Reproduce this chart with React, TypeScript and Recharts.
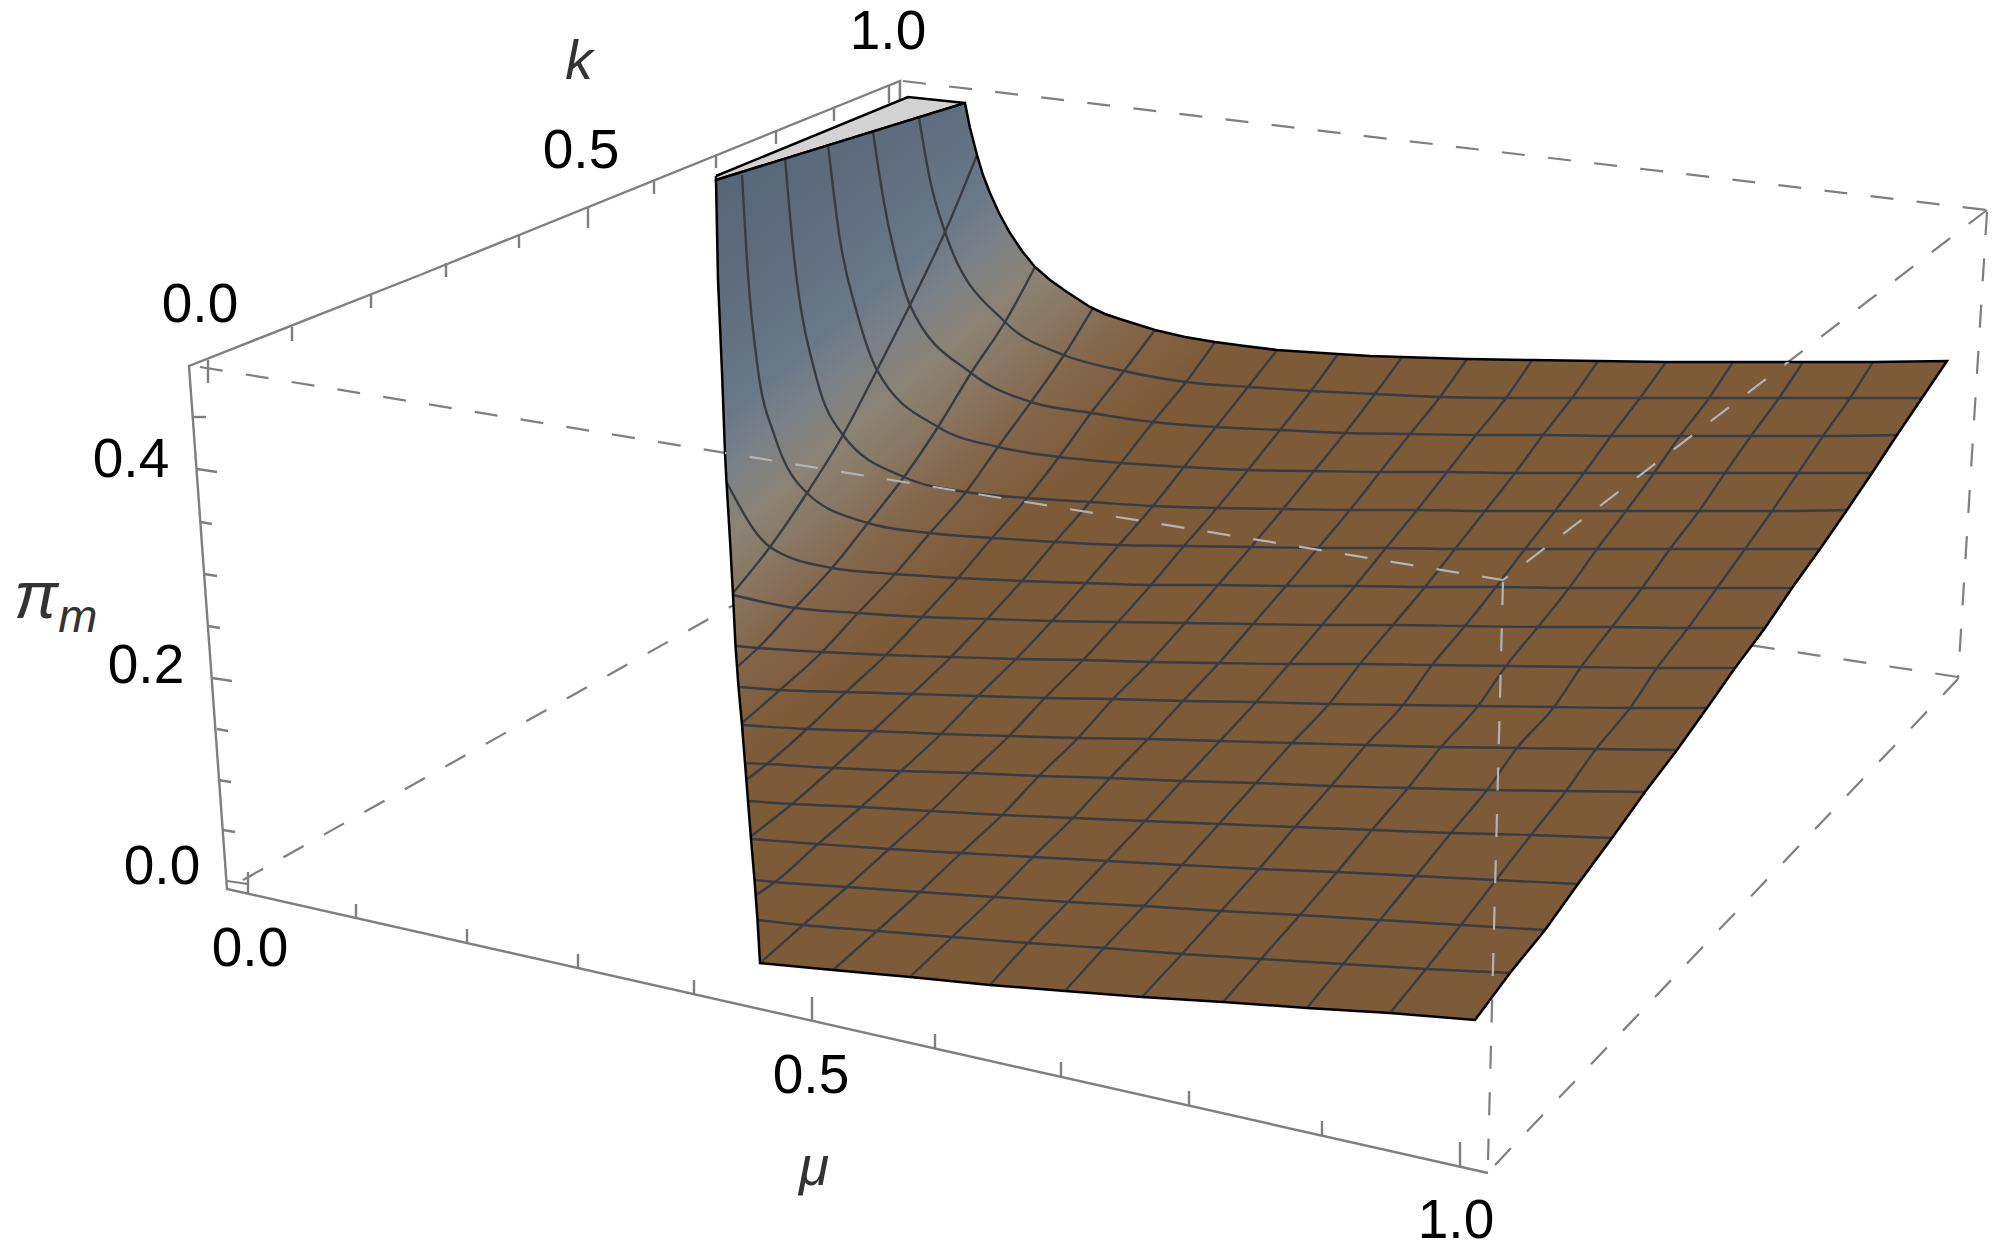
import { ScatterChart, Scatter, XAxis, YAxis } from "recharts";

type Pt = number[];

// surface mesh; the chart's axes run over the image size
const row1: Pt[] = [[945,232],[1005,322],[1064,355],[1124,371],[1186,382],[1248,387],[1311,391],[1375,394],[1440,397],[1506,398],[1572,398],[1640,398],[1709,398],[1779,398],[1850,398],[1922,398]];
const row2: Pt[] = [[910,305],[971,373],[1031,402],[1091,413],[1153,422],[1216,427],[1280,430],[1345,433],[1410,434],[1476,435],[1543,435],[1611,436],[1680,436],[1751,436],[1823,436],[1897,435]];
const row3: Pt[] = [[877,370],[938,427],[998,447],[1059,457],[1121,463],[1184,467],[1248,470],[1314,471],[1380,472],[1447,472],[1515,473],[1584,473],[1654,473],[1725,473],[1798,473],[1872,473]];
const row4: Pt[] = [[843,435],[904,477],[966,492],[1027,498],[1090,502],[1153,506],[1217,508],[1283,509],[1350,510],[1417,510],[1485,511],[1555,511],[1626,511],[1699,511],[1772,511],[1847,510]];
const row5: Pt[] = [[807,493],[868,523],[930,533],[992,538],[1055,542],[1119,545],[1184,546],[1251,547],[1318,548],[1386,548],[1455,549],[1525,549],[1597,549],[1670,549],[1745,549],[1820,549]];
const row6: Pt[] = [[770,547],[832,568],[895,574],[958,578],[1022,581],[1086,583],[1151,585],[1218,585],[1286,586],[1355,586],[1425,587],[1496,587],[1569,588],[1642,588],[1717,588],[1792,588]];
const row7: Pt[] = [[795,608],[858,613],[922,617],[987,619],[1052,621],[1118,622],[1185,623],[1253,624],[1322,625],[1393,625],[1465,626],[1538,627],[1612,627],[1688,628],[1765,628]];
const row8: Pt[] = [[758,648],[822,652],[886,655],[951,657],[1016,659],[1083,660],[1150,662],[1219,663],[1289,664],[1360,664],[1432,665],[1506,666],[1581,667],[1657,668],[1735,668]];
const row9: Pt[] = [[780,690],[846,692],[912,694],[978,696],[1045,698],[1113,699],[1183,701],[1256,702],[1329,704],[1403,705],[1478,706],[1554,707],[1630,708],[1707,708]];
const row10: Pt[] = [[807,729],[873,731],[941,734],[1009,736],[1078,738],[1148,739],[1220,741],[1292,743],[1366,745],[1441,747],[1517,748],[1596,749],[1677,750]];
const row11: Pt[] = [[767,764],[833,768],[901,771],[970,773],[1039,776],[1110,778],[1182,781],[1256,783],[1331,786],[1408,788],[1487,790],[1566,791],[1645,792]];
const row12: Pt[] = [[792,804],[861,807],[931,811],[1002,815],[1073,818],[1145,821],[1219,824],[1295,827],[1372,830],[1451,833],[1531,835],[1612,838]];
const row13: Pt[] = [[818,844],[889,849],[961,853],[1033,857],[1107,861],[1182,865],[1259,869],[1337,872],[1416,876],[1496,880],[1578,884]];
const row14: Pt[] = [[775,882],[847,887],[920,892],[994,897],[1068,902],[1144,906],[1221,911],[1300,915],[1380,920],[1461,925],[1545,930]];
const row15: Pt[] = [[803,925],[877,931],[952,937],[1028,943],[1104,948],[1182,954],[1261,959],[1343,964],[1426,969],[1510,973]];
const meshRows = [row1, row2, row3, row4, row5, row6, row7, row8, row9, row10, row11, row12, row13, row14, row15];
const rowFirstCol = [1, 1, 1, 1, 1, 1, 2, 2, 3, 4, 4, 5, 6, 6, 7];

// part of each row between the surface edge and its first crossing
const rowHeads: Pt[][] = [
  [[919,118],[930,180]],
  [[873,132],[883,197],[897,263]],
  [[828,145],[840,240],[857,313]],
  [[785,158],[793,247],[817,380]],
  [[742,175],[748,275],[758,370],[775,437]],
  [[726.5,482]],
  [[733,595]],
  [[735.5,646]],
  [[738.5,687]],
  [[742,725]],
  [[745,763]],
  [[748,801]],
  [[751,839]],
  [[754.5,880]],
  [[757.5,920]],
];

const colStarts: Pt[] = [[733,593],[737,667],[742,723],[746,780],[750,837],[756,895],[760,963]];
const bottomNodes: Pt[] = [[833,970],[910,977],[990,985],[1065,991],[1142,997],[1223,1002],[1307,1008],[1390,1013],[1475,1020]];
const backNodes: Pt[] = [[977,155],[1035,267],[1093,308],[1155,330],[1215,342],[1277,350],[1338,354],[1402,357],[1467,359],[1532,360],[1598,361],[1666,362],[1733,362],[1803,362],[1873,362],[1947,361]];

const leftEdge: Pt[] = [[716,180],[718,280],[722,372],[725,453],[726.5,482],[730,540],[733,595],[735.5,646],[738.5,687],[742,725],[745,763],[748,801],[751,839],[754.5,880],[757.5,920],[760,963]];
const bottomEdge: Pt[] = [[833,970],[910,977],[990,985],[1065,991],[1142,997],[1223,1002],[1307,1008],[1390,1013],[1475,1020]];
const rightEdge: Pt[] = [[1510,973],[1545,930],[1578,884],[1612,838],[1645,792],[1677,750],[1707,708],[1735,668],[1765,628],[1792,588],[1820,549],[1847,510],[1872,473],[1897,435],[1922,398],[1947,361]];
const backEdge: Pt[] = [[1873,362],[1803,362],[1733,362],[1666,362],[1598,361],[1532,360],[1467,359],[1402,357],[1370,356],[1338,354],[1307,352],[1277,350],[1245,346],[1215,342],[1185,337],[1155,330],[1123,320],[1105,314],[1090,307],[1067,292],[1050,280],[1035,267],[1022,251],[1010,233],[999,213],[990,193],[983,175],[977,155],[970,128],[965,103]];
const flap: Pt[] = [[716,176],[908,97],[965,103],[716,180],[716,176]];

// box edges
const solidFrame: Pt[][] = [
  [[420,275],[189,366],[227,889],[1488,1173]],
  [[420,275],[900,81],[900,97]],
];
const frontDashes: Pt[][] = [
  [[200,367],[1503,580]],
  [[1503,582],[1488,1160]],
  [[1987,210],[1503,580]],
];
const backDashes: Pt[][] = [
  [[243,880],[896,514]],
  [[1958,677],[896,514]],
  [[900,81],[896,514]],
  [[1495,1165],[1958,679]],
  [[1987,212],[1958,679]],
  [[903,81],[1987,210]],
  [[227,881],[248,884]],
];

const zTicks: Pt[][] = [[[193,417],[206,417]],[[197,469],[217,472]],[[201,522],[212,524]],[[204,574],[217,576]],[[208,626],[220,628]],[[212,678],[232,681]],[[217,729],[228,731]],[[218,780],[231,782]],[[223,830],[235,832]]];
const kTicks: Pt[][] = [[[208,360],[208,383]],[[292,327],[292,341]],[[371,295],[371,308]],[[446,263],[446,277]],[[519,235],[519,248]],[[588,207],[588,228]],[[654,181],[654,194]],[[716,155],[716,168]],[[776,132],[776,144]],[[834,108],[834,121]],[[889,85],[889,103]]];
const muTicks: Pt[][] = [[[248,872],[248,893]],[[356,904],[356,918]],[[467,929],[467,943]],[[578,954],[578,969]],[[694,980],[694,995]],[[812,997],[812,1021]],[[935,1034],[935,1049]],[[1061,1062],[1061,1077]],[[1189,1091],[1189,1106]],[[1322,1121],[1322,1136]],[[1460,1142],[1460,1167]]];

const tickLabels = [
  { x: 200, y: 322, text: "0.0" },
  { x: 131, y: 477, text: "0.4" },
  { x: 146, y: 683, text: "0.2" },
  { x: 162, y: 884, text: "0.0" },
  { x: 250, y: 966, text: "0.0" },
  { x: 581, y: 168, text: "0.5" },
  { x: 888, y: 49, text: "1.0" },
  { x: 811, y: 1093, text: "0.5" },
  { x: 1456, y: 1238, text: "1.0" },
];
const axisLabels = [
  { x: 579, y: 79, text: "k", sub: "" },
  { x: 814, y: 1185, text: "μ", sub: "" },
  { x: 14, y: 618, text: "π", sub: "m", anchor: "start", size: 66 },
];

const GRAY = "#7f7f7f";
const MESH = "#383c42";
const FONT = '"Liberation Sans", Arial, sans-serif';

const noMark = () => <g />;
const toData = (pts: Pt[]) => pts.map(([x, y]) => ({ x, y }));

const outline: Pt[] = [...leftEdge, ...bottomEdge, ...rightEdge, ...backEdge];

// columns run from the left/bottom edge up to the back edge, through the row crossings
const meshCols: Pt[][] = backNodes.slice(0, 15).map((top, i) => {
  const col = i + 1;
  const start = col <= 7 ? colStarts[i] : bottomNodes[col - 8];
  const pts: Pt[] = [start];
  for (let r = meshRows.length - 1; r >= 0; r--) {
    const idx = col - rowFirstCol[r];
    if (idx >= 0 && idx < meshRows[r].length) pts.push(meshRows[r][idx]);
  }
  pts.push(top);
  return pts;
});

const path = (key: string, pts: Pt[], line: any, joint: any = "linear") => (
  <Scatter
    key={key}
    data={toData(pts)}
    line={line}
    lineType="joint"
    lineJointType={joint}
    shape={noMark}
    isAnimationActive={false}
  />
);

const TickText = (props: any) => (
  <text x={props.cx} y={props.cy} textAnchor="middle" fontFamily={FONT} fontSize={55} fill="#000">
    {props.payload.text}
  </text>
);

const AxisText = (props: any) => (
  <text
    x={props.cx}
    y={props.cy}
    textAnchor={props.payload.anchor || "middle"}
    fontFamily={FONT}
    fontStyle="italic"
    fontSize={props.payload.size || 55}
    fill="#333"
  >
    {props.payload.text}
    {props.payload.sub ? (
      <tspan dy={14} fontSize={47}>
        {props.payload.sub}
      </tspan>
    ) : null}
  </text>
);

export default function App() {
  const thin = { stroke: GRAY, strokeWidth: 2.4, fill: "none" };
  const dashed = { ...thin, strokeWidth: 2.2, strokeDasharray: "23 23.4" };
  const overSurface = { ...dashed, stroke: "#b3b3b3", clipPath: "url(#surfaceClip)" };
  const meshLine = { stroke: MESH, strokeWidth: 2.4, fill: "none" };

  return (
    <div style={{ position: "absolute", left: 0, top: 0, width: 2000, height: 1255 }}>
      <ScatterChart width={2000} height={1255} margin={{ top: 0, right: 0, bottom: 0, left: 0 }}>
        <defs>
          <linearGradient id="surfaceShade" gradientUnits="userSpaceOnUse" x1={390} y1={456} x2={689} y2={806}>
            <stop offset="0" stopColor="#566577" />
            <stop offset="0.217" stopColor="#5f6d7e" />
            <stop offset="0.413" stopColor="#6a7988" />
            <stop offset="0.5" stopColor="#7b8187" />
            <stop offset="0.609" stopColor="#8b8375" />
            <stop offset="0.717" stopColor="#887662" />
            <stop offset="0.826" stopColor="#84664a" />
            <stop offset="1" stopColor="#7d5a38" />
          </linearGradient>
          <clipPath id="surfaceClip">
            <polygon points={outline.map((p) => p.join(",")).join(" ")} />
          </clipPath>
        </defs>
        <XAxis type="number" dataKey="x" domain={[0, 2000]} hide />
        <YAxis type="number" dataKey="y" domain={[0, 1255]} reversed hide />

        {backDashes.map((d, i) => path(`back-${i}`, d, dashed))}
        {frontDashes.map((d, i) => path(`front-${i}`, d, dashed))}
        {solidFrame.map((d, i) => path(`frame-${i}`, d, thin))}
        {[...zTicks, ...kTicks, ...muTicks].map((d, i) => path(`tick-${i}`, d, thin))}

        {path("flap", flap, { fill: "#d3d3d3", stroke: "#000", strokeWidth: 2.5 })}
        {path("surface", outline, { fill: "url(#surfaceShade)", stroke: "none" })}
        {meshRows.map((row, i) =>
          path(`row-${i}`, [...rowHeads[i], ...row], meshLine, "monotoneX"),
        )}
        {meshCols.map((col, i) => path(`col-${i}`, col, meshLine, "monotoneX"))}
        {path("surface-edge", [...outline, outline[0]], { fill: "none", stroke: "#000", strokeWidth: 2.5 })}
        {frontDashes.map((d, i) => path(`front-over-${i}`, d, overSurface))}

        <Scatter data={tickLabels} shape={TickText} isAnimationActive={false} />
        <Scatter data={axisLabels} shape={AxisText} isAnimationActive={false} />
      </ScatterChart>
    </div>
  );
}
